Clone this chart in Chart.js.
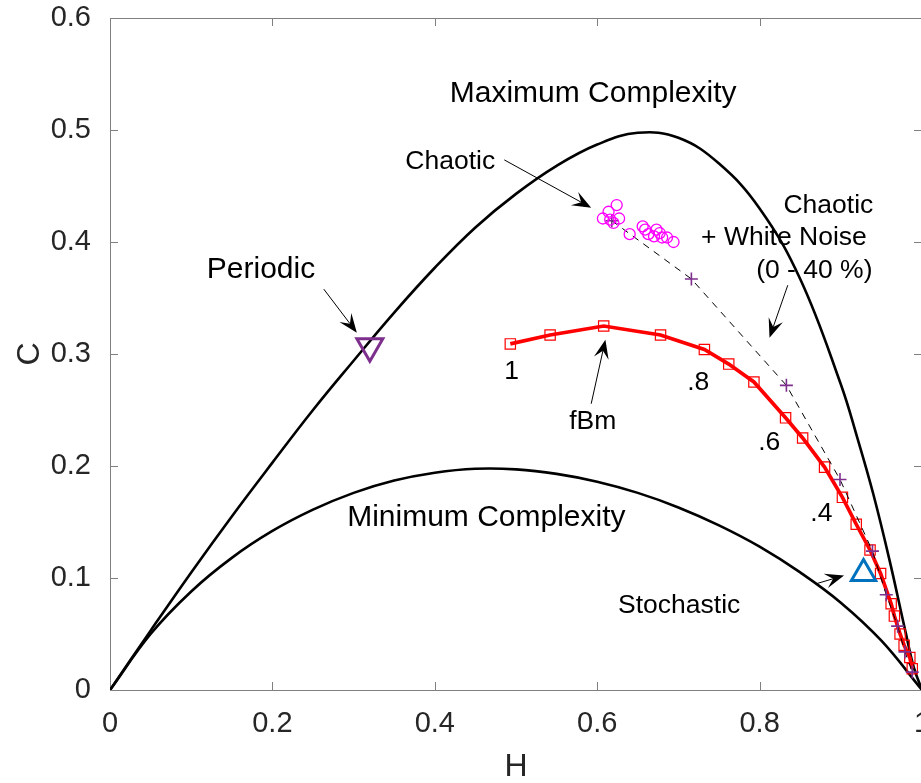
<!DOCTYPE html>
<html>
<head>
<meta charset="utf-8">
<script src="https://cdn.jsdelivr.net/npm/chart.js"></script>
<style>
  html, body { margin: 0; padding: 0; background: #fff; overflow: hidden; }
  #wrap { position: relative; width: 940px; height: 783px; }
</style>
</head>
<body>
<div id="wrap"><canvas id="plot"></canvas></div>
<script>
// tick labels
const xTickLabels = ['0', '0.2', '0.4', '0.6', '0.8', '1'];
const yTickLabels = ['0', '0.1', '0.2', '0.3', '0.4', '0.5', '0.6'];

// Maximum complexity curve
const maxH = [0, 0.05, 0.1, 0.15, 0.2, 0.25, 0.3, 0.35, 0.4, 0.45, 0.5, 0.55, 0.6, 0.65, 0.7, 0.75, 0.8, 0.85, 0.9, 0.92, 0.94, 0.96, 0.98, 0.99, 1];
const maxC = [0, 0.053, 0.105, 0.155, 0.203, 0.250, 0.294, 0.337, 0.377, 0.413, 0.443, 0.468, 0.487, 0.4975, 0.493, 0.470, 0.430, 0.367, 0.273, 0.226, 0.175, 0.116, 0.051, 0.020, 0];

// Minimum complexity curve
const minH = [0, 0.05, 0.1, 0.15, 0.2, 0.25, 0.3, 0.35, 0.4, 0.45, 0.5, 0.55, 0.6, 0.65, 0.7, 0.75, 0.8, 0.85, 0.9, 0.95, 1];
const minC = [0, 0.050, 0.088, 0.118, 0.142, 0.161, 0.176, 0.187, 0.194, 0.1975, 0.197, 0.193, 0.186, 0.176, 0.163, 0.147, 0.128, 0.105, 0.078, 0.044, 0];

// fBm (Hurst 1 ... 0.05)
const fbmH = [0.493, 0.542, 0.608, 0.678, 0.732, 0.762, 0.793, 0.832, 0.853, 0.880, 0.902, 0.919, 0.936, 0.949, 0.962, 0.966, 0.973, 0.978, 0.985, 0.988];
const fbmC = [0.309, 0.317, 0.325, 0.317, 0.304, 0.291, 0.275, 0.243, 0.225, 0.199, 0.172, 0.148, 0.125, 0.104, 0.077, 0.066, 0.050, 0.040, 0.029, 0.019];

// Chaotic + white noise (0 - 40 %)
const noiseH = [0.618, 0.716, 0.833, 0.899, 0.939, 0.956, 0.970, 0.979, 0.988];
const noiseC = [0.419, 0.367, 0.272, 0.188, 0.124, 0.085, 0.057, 0.034, 0.016];

// Chaotic maps
const chaosH = [0.624, 0.614, 0.607, 0.616, 0.627, 0.620, 0.640, 0.656, 0.659, 0.663, 0.673, 0.677, 0.670, 0.680, 0.686, 0.694];
const chaosC = [0.433, 0.427, 0.421, 0.420, 0.421, 0.417, 0.407, 0.414, 0.411, 0.407, 0.411, 0.408, 0.405, 0.404, 0.404, 0.400];

// single reference points
const periodicH = [0.320];
const periodicC = [0.307];
const stochasticH = [0.928];
const stochasticC = [0.104];

const zip = (xs, ys) => xs.map((v, i) => ({ x: v, y: ys[i] }));

const FONT = '"Liberation Sans", Arial, Helvetica, sans-serif';
const TXT = '#262626';

// text labels and arrows, placed in data units
const notes = [
  { text: 'Maximum Complexity', h: 0.595, c: 0.532, size: 30 },
  { text: 'Minimum Complexity', h: 0.4635, c: 0.154, size: 30 },
  { text: 'Periodic', h: 0.186, c: 0.375, size: 30 },
  { text: 'Chaotic', h: 0.419, c: 0.472, size: 26.5 },
  { text: 'Chaotic', h: 0.940, c: 0.432, size: 26.5, align: 'right' },
  { text: '+ White Noise', h: 0.932, c: 0.404, size: 26.5, align: 'right' },
  { text: '(0 - 40 %)', h: 0.939, c: 0.374, size: 26.5, align: 'right' },
  { text: '1', h: 0.4947, c: 0.2845, size: 26.5 },
  { text: '.8', h: 0.7245, c: 0.274, size: 26.5 },
  { text: '.6', h: 0.8118, c: 0.221, size: 26.5 },
  { text: '.4', h: 0.8761, c: 0.157, size: 26.5 },
  { text: 'fBm', h: 0.5945, c: 0.2395, size: 26.5 },
  { text: 'Stochastic', h: 0.701, c: 0.0751, size: 26.5 }
];
const arrows = [
  { h1: 0.4856, c1: 0.4733, h2: 0.5926, c2: 0.4306 },
  { h1: 0.2633, c1: 0.3579, h2: 0.304, c2: 0.319 },
  { h1: 0.8347, c1: 0.3614, h2: 0.8122, c2: 0.3146 },
  { h1: 0.5926, c1: 0.2556, h2: 0.6101, c2: 0.3128 },
  { h1: 0.8694, c1: 0.0948, h2: 0.904, c2: 0.1022 }
];

function drawArrow(ctx, x1, y1, x2, y2) {
  const a = Math.atan2(y2 - y1, x2 - x1);
  const cs = Math.cos(a), sn = Math.sin(a);
  const L = 19, W = 7.5;
  ctx.beginPath();
  ctx.moveTo(x1, y1);
  ctx.lineTo(x2 - 0.6 * L * cs, y2 - 0.6 * L * sn);
  ctx.stroke();
  ctx.beginPath();
  ctx.moveTo(x2, y2);
  ctx.lineTo(x2 - L * cs + W * sn, y2 - L * sn - W * cs);
  ctx.lineTo(x2 - 0.6 * L * cs, y2 - 0.6 * L * sn);
  ctx.lineTo(x2 - L * cs - W * sn, y2 - L * sn + W * cs);
  ctx.closePath();
  ctx.fill();
}

// box with inward ticks on all four sides, like the original axes
const frame = {
  id: 'frame',
  beforeDatasetsDraw(chart) {
    const { ctx, chartArea: a, scales: { x, y } } = chart;
    ctx.save();
    ctx.strokeStyle = '#808080';
    ctx.lineWidth = 1;
    ctx.strokeRect(a.left + 0.5, a.top + 0.5, a.right - a.left - 1, a.bottom - a.top);
    ctx.beginPath();
    x.ticks.forEach(t => {
      const px = Math.round(x.getPixelForValue(t.value)) + 0.5;
      ctx.moveTo(px, a.bottom); ctx.lineTo(px, a.bottom - 8);
      ctx.moveTo(px, a.top); ctx.lineTo(px, a.top + 8);
    });
    y.ticks.forEach(t => {
      const py = Math.round(y.getPixelForValue(t.value)) + 0.5;
      ctx.moveTo(a.left, py); ctx.lineTo(a.left + 8, py);
      ctx.moveTo(a.right, py); ctx.lineTo(a.right - 8, py);
    });
    ctx.stroke();
    ctx.restore();
  },
  afterDraw(chart) {
    const { ctx, scales: { x, y } } = chart;
    ctx.save();
    ctx.fillStyle = '#000';
    ctx.strokeStyle = '#000';
    ctx.lineWidth = 1;
    arrows.forEach(r => drawArrow(ctx,
      x.getPixelForValue(r.h1), y.getPixelForValue(r.c1),
      x.getPixelForValue(r.h2), y.getPixelForValue(r.c2)));
    ctx.textBaseline = 'middle';
    notes.forEach(n => {
      ctx.font = n.size + 'px ' + FONT;
      ctx.textAlign = n.align || 'center';
      ctx.fillText(n.text, x.getPixelForValue(n.h), y.getPixelForValue(n.c));
    });
    ctx.restore();
  }
};

new Chart(document.getElementById('plot'), {
  type: 'scatter',
  data: {
    datasets: [
      { label: 'Maximum Complexity', data: zip(maxH, maxC), showLine: true, borderColor: '#000', borderWidth: 2.6,
        pointRadius: 0, tension: 0.4, order: 6 },
      { label: 'Minimum Complexity', data: zip(minH, minC), showLine: true, borderColor: '#000', borderWidth: 2.6,
        pointRadius: 0, tension: 0.4, order: 6 },
      { label: 'fBm', data: zip(fbmH, fbmC), showLine: true, borderColor: '#ff0000', borderWidth: 3.7,
        pointStyle: 'rect', pointRadius: 7.3, pointBorderWidth: 1.2, pointBorderColor: '#ff0000',
        pointBackgroundColor: 'rgba(0,0,0,0)', order: 4 },
      { label: 'Chaotic + White Noise', data: zip(noiseH, noiseC), showLine: true, borderColor: '#000', borderWidth: 1,
        borderDash: [7, 6], pointStyle: 'cross', pointRadius: 6.5, pointBorderWidth: 1.6,
        pointBorderColor: '#7e2f8e', order: 3 },
      { label: 'Chaotic', data: zip(chaosH, chaosC), pointStyle: 'circle', pointRadius: 5.5, pointBorderWidth: 1.3,
        pointBorderColor: '#ff00ff', pointBackgroundColor: 'rgba(0,0,0,0)', order: 2 },
      { label: 'Periodic', data: zip(periodicH, periodicC), pointStyle: 'triangle', pointRotation: 180,
        pointRadius: 15, pointBorderWidth: 3, pointBorderColor: '#7e2f8e', pointBackgroundColor: 'rgba(0,0,0,0)', order: 1 },
      { label: 'Stochastic', data: zip(stochasticH, stochasticC), pointStyle: 'triangle',
        pointRadius: 14, pointBorderWidth: 3, pointBorderColor: '#0072bd', pointBackgroundColor: 'rgba(0,0,0,0)', order: 1 }
    ]
  },
  options: {
    responsive: true,
    maintainAspectRatio: false,
    animation: false,
    events: [],
    layout: { padding: { top: 11, right: 15, bottom: 0, left: 0 } },
    plugins: { legend: { display: false }, tooltip: { enabled: false } },
    scales: {
      x: {
        type: 'linear', min: 0, max: 1,
        grid: { display: false, drawTicks: false }, border: { display: false },
        ticks: { stepSize: 0.2, autoSkip: false, maxRotation: 0, padding: 17, color: TXT,
          font: { family: FONT, size: 29 }, callback: (v, i) => xTickLabels[i] },
        title: { display: true, text: 'H', color: TXT, font: { family: FONT, size: 32 }, padding: { top: 0, bottom: -3 } },
        afterFit(s) { s.height = 93; s.paddingLeft = 0; s.paddingRight = 0; }
      },
      y: {
        type: 'linear', min: 0, max: 0.6,
        grid: { display: false, drawTicks: false }, border: { display: false },
        ticks: { stepSize: 0.1, padding: 19, color: TXT,
          font: { family: FONT, size: 29 }, callback: (v, i) => yTickLabels[i] },
        title: { display: true, text: 'C', color: TXT, font: { family: FONT, size: 32 }, padding: { top: 11 } },
        afterFit(s) { s.width = 110; s.paddingTop = 0; s.paddingBottom = 0; }
      }
    }
  },
  plugins: [frame]
});
</script>
</body>
</html>
